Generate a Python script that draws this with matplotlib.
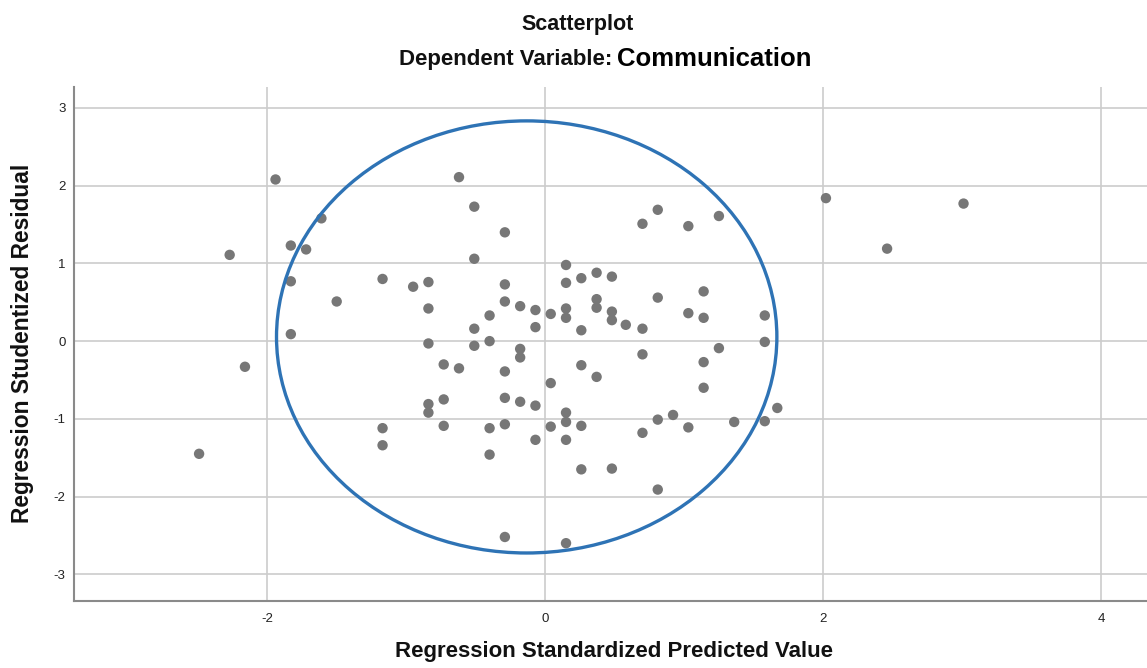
import matplotlib
matplotlib.use("Agg")
import matplotlib.pyplot as plt
from matplotlib.patches import Ellipse

plt.rcParams['font.family'] = ['Liberation Sans', 'DejaVu Sans']
plt.rcParams['axes.unicode_minus'] = False

predicted = [-1.94, -1.61, -1.83, -1.72, -2.27, -1.83, -1.17, -1.50, -1.83, -2.16,
             -2.49, -1.17, -1.17, -0.62, -0.51, -0.29, -0.51, -0.95, -0.84, -0.29,
             -0.84, -0.29, -0.18, -0.40, -0.07, 0.04, 0.15, 0.15, -0.07, -0.51,
             -0.84, -0.51, -0.40, -0.18, -0.18, -0.73, -0.62, -0.29, 0.04, 0.15,
             0.15, 0.26, 0.37, 0.48, 0.37, 0.37, 0.48, 0.48, 0.58, 0.70,
             0.26, 0.81, 0.70, 0.81, 1.03, 1.25, 1.14, 1.03, 1.14, 1.58,
             1.58, 1.25, 0.70, 1.14, 0.26, 0.37, 1.14, -0.84, -0.84, -0.73,
             -0.73, -0.29, -0.18, -0.07, -0.40, -0.29, -0.07, -0.40, 0.04, 0.15,
             0.15, 0.26, 0.15, 0.26, 0.48, 0.70, 0.81, 0.92, 1.03, 1.36,
             1.58, 1.67, 0.81, -0.29, 0.15, 2.02, 3.01, 2.46]
residual = [2.08, 1.58, 1.23, 1.18, 1.11, 0.77, 0.80, 0.51, 0.09, -0.33,
            -1.45, -1.12, -1.34, 2.11, 1.73, 1.40, 1.06, 0.70, 0.76, 0.73,
            0.42, 0.51, 0.45, 0.33, 0.40, 0.35, 0.42, 0.30, 0.18, 0.16,
            -0.03, -0.06, 0.00, -0.10, -0.21, -0.30, -0.35, -0.39, -0.54, 0.98,
            0.75, 0.81, 0.88, 0.83, 0.54, 0.43, 0.38, 0.27, 0.21, 0.16,
            0.14, 0.56, 1.51, 1.69, 1.48, 1.61, 0.64, 0.36, 0.30, 0.33,
            -0.01, -0.09, -0.17, -0.27, -0.31, -0.46, -0.60, -0.81, -0.92, -0.75,
            -1.09, -0.73, -0.78, -0.83, -1.12, -1.07, -1.27, -1.46, -1.10, -0.92,
            -1.04, -1.09, -1.27, -1.65, -1.64, -1.18, -1.01, -0.95, -1.11, -1.04,
            -1.03, -0.86, -1.91, -2.52, -2.60, 1.84, 1.77, 1.19]

x_ticks = [-2, 0, 2, 4]
y_ticks = [-3, -2, -1, 0, 1, 2, 3]

# ellipse annotation (data coords)
ell_center = (-0.133, 0.054)
ell_width = 3.60
ell_height = 5.56

W, H = 1147, 668
fig = plt.figure(figsize=(W / 100, H / 100), dpi=100)
ax = fig.add_axes([74 / W, (H - 600.7) / H, 1 - 74 / W, (600.7 - 87) / H])

ax.set_xlim(-3.39, 4.33)
ax.set_ylim(-3.34, 3.27)
ax.set_xticks(x_ticks)
ax.set_yticks(y_ticks)
ax.grid(True, color='#cccccc', linewidth=1.2)
ax.set_axisbelow(True)

for s in ['top', 'right']:
    ax.spines[s].set_visible(False)
for s in ['left', 'bottom']:
    ax.spines[s].set_color('#8a8a8a')
    ax.spines[s].set_linewidth(1.5)

ax.tick_params(axis='both', length=0, labelsize=9.5, colors='#222222')
ax.tick_params(axis='y', pad=6)
ax.tick_params(axis='x', pad=9)

ax.scatter(predicted, residual, s=56, color='#777777', edgecolors='none', zorder=3)

ax.add_patch(Ellipse(ell_center, ell_width, ell_height, fill=False,
                     edgecolor='#2E73B5', linewidth=2.4, zorder=4))

def fx(px):
    return px / W

def fy(py):
    return 1 - py / H

fig.text(fx(578), fy(30), 'Scatterplot', ha='center', va='baseline',
         fontsize=15.5, fontweight='bold', color='#111111')
fig.text(fx(612), fy(65), 'Dependent Variable:', ha='right', va='baseline',
         fontsize=16, fontweight='bold', color='#111111')
fig.text(fx(617), fy(65.5), 'Communication', ha='left', va='baseline',
         fontsize=18.5, fontweight='bold', color='#000000')
fig.text(fx(614), fy(657), 'Regression Standardized Predicted Value', ha='center',
         va='baseline', fontsize=16, fontweight='bold', color='#111111')
fig.text(fx(23), fy(343), 'Regression Studentized Residual', ha='center',
         va='center', rotation=90, fontsize=16.4, fontweight='bold', color='#111111')

fig.savefig('out.png', dpi=100)
